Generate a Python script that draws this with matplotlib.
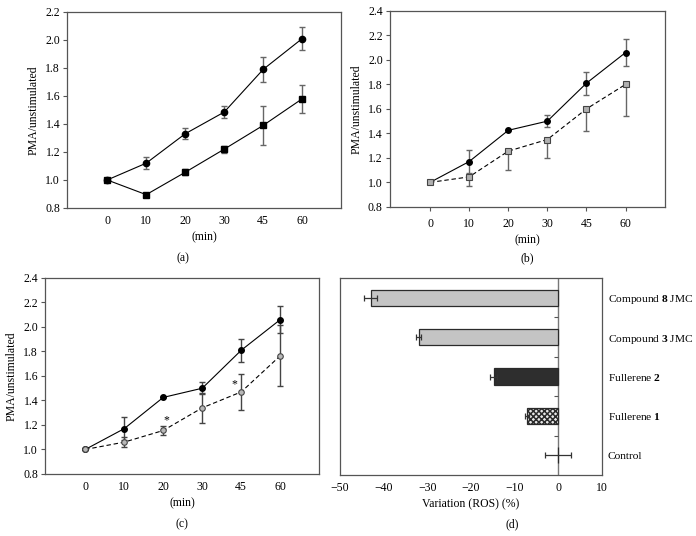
import numpy as np
import matplotlib
matplotlib.use("Agg")
import matplotlib.pyplot as plt

plt.rcParams["font.family"] = ["Liberation Serif", "DejaVu Serif"]
plt.rcParams["mathtext.fontset"] = "custom"
plt.rcParams["mathtext.rm"] = "Liberation Serif"
plt.rcParams["mathtext.bf"] = "Liberation Serif:bold"
plt.rcParams["font.size"] = 8.5
plt.rcParams["hatch.linewidth"] = 1.1

# ---- data ----
time_labels = ["0", "10", "20", "30", "45", "60"]

# panel (a)
a_circle = [1.00, 1.12, 1.33, 1.485, 1.79, 2.01]
a_circle_err = [0.0, 0.045, 0.04, 0.045, 0.09, 0.085]
a_square = [1.00, 0.895, 1.055, 1.22, 1.39, 1.58]
a_square_err = [0.0, 0.015, 0.02, 0.025, 0.14, 0.10]

# panel (b)
b_circle = [1.00, 1.17, 1.425, 1.50, 1.81, 2.06]
b_circle_err = [0.0, 0.095, 0.0, 0.05, 0.095, 0.11]
b_square = [1.00, 1.045, 1.255, 1.35, 1.60, 1.80]
b_square_err_low = [0.0, 0.075, 0.15, 0.15, 0.18, 0.26]

# panel (c)
c_circle = [1.00, 1.17, 1.425, 1.50, 1.81, 2.06]
c_circle_err = [0.0, 0.095, 0.0, 0.05, 0.095, 0.11]
c_open = [1.00, 1.06, 1.155, 1.34, 1.47, 1.765]
c_open_err = [0.0, 0.04, 0.035, 0.12, 0.15, 0.25]
c_star = [False, False, True, False, True, False]

# panel (d)
d_labels = [r"Compound $\mathbf{8}$ JMC", r"Compound $\mathbf{3}$ JMC",
            r"Fullerene $\mathbf{2}$", r"Fullerene $\mathbf{1}$", "Control"]
d_values = [-43.0, -32.0, -14.8, -7.2, 0.0]
d_err = [1.5, 0.5, 0.8, 0.5, 3.0]

spine_col = "#555555"
err_col = "#666666"

fig = plt.figure(figsize=(6.96, 5.36), dpi=100)

ax_a = fig.add_axes([0.0963, 0.612, 0.394, 0.3657])
ax_b = fig.add_axes([0.560, 0.614, 0.395, 0.3657])
ax_c = fig.add_axes([0.0647, 0.1157, 0.394, 0.3657])
ax_d = fig.add_axes([0.4885, 0.1138, 0.3764, 0.3675])

x = np.arange(len(time_labels))


def style_line_axes(ax, ymax, xticks_marks):
    ax.set_xlim(-1.03, 6.0)
    ax.set_ylim(0.8, ymax)
    ax.set_yticks(np.arange(0.8, ymax + 0.01, 0.2))
    ax.set_yticklabels([f"{v:.1f}" for v in np.arange(0.8, ymax + 0.01, 0.2)])
    ax.set_xticks(x)
    ax.set_xticklabels(time_labels)
    ax.tick_params(axis="y", direction="out", length=3, width=0.8,
                   color=spine_col, pad=2)
    ax.tick_params(axis="x", direction="out",
                   length=3 if xticks_marks else 0, width=0.8,
                   color=spine_col, pad=5)
    for s in ax.spines.values():
        s.set_color(spine_col)
        s.set_linewidth(0.9)
    ax.set_xlabel("(min)", labelpad=3)
    ax.set_ylabel("PMA/unstimulated", labelpad=4)


# ---- (a) ----
ax_a.errorbar(x, a_circle, yerr=a_circle_err, fmt="none", ecolor=err_col,
              elinewidth=1.0, capsize=2.5, capthick=1.0)
ax_a.errorbar(x, a_square, yerr=a_square_err, fmt="none", ecolor=err_col,
              elinewidth=1.0, capsize=2.5, capthick=1.0)
ax_a.plot(x, a_circle, color="black", lw=0.8, marker="o", ms=4.5)
ax_a.plot(x, a_square, color="black", lw=0.8, marker="s", ms=4.5)
style_line_axes(ax_a, 2.2, False)

# ---- (b) ----
ax_b.errorbar(x, b_circle, yerr=b_circle_err, fmt="none", ecolor=err_col,
              elinewidth=1.0, capsize=2.5, capthick=1.0)
ax_b.errorbar(x, b_square, yerr=[b_square_err_low, [0] * 6], fmt="none",
              ecolor=err_col, elinewidth=1.0, capsize=2.5, capthick=1.0)
ax_b.plot(x, b_circle, color="black", lw=0.8, marker="o", ms=4)
ax_b.plot(x, b_square, color="black", lw=0.8, ls=(0, (4, 2.5)), marker="s",
          ms=4, mfc="#b0b0b0", mec="#444444", mew=0.8)
style_line_axes(ax_b, 2.4, True)

# ---- (c) ----
ax_c.errorbar(x, c_circle, yerr=c_circle_err, fmt="none", ecolor="#444444",
              elinewidth=1.0, capsize=2.5, capthick=1.0)
ax_c.errorbar(x, c_open, yerr=c_open_err, fmt="none", ecolor="#444444",
              elinewidth=1.0, capsize=2.5, capthick=1.0)
ax_c.plot(x, c_circle, color="black", lw=0.8, marker="o", ms=4)
ax_c.plot(x, c_open, color="black", lw=0.8, ls=(0, (4, 2.5)), marker="o",
          ms=4, mfc="#b8b8b8", mec="#444444", mew=0.8)
for xi, yi, st, ei in zip(x, c_open, c_star, c_open_err):
    if st:
        if xi == 2:
            ax_c.annotate("*", (xi, yi + ei), xytext=(2, 0),
                          textcoords="offset points", ha="center",
                          va="bottom", fontsize=8.5)
        else:
            ax_c.annotate("*", (xi, yi), xytext=(-5, 1),
                          textcoords="offset points", ha="center",
                          va="bottom", fontsize=8.5)
style_line_axes(ax_c, 2.4, False)

# ---- (d) ----
yd = np.arange(len(d_labels))
colors = ["#c4c4c4", "#c4c4c4", "#2e2e2e", "#e8e8e8", "white"]
hatches = [None, None, None, "xxxxxx", None]
for yi, v, c, h in zip(yd, d_values, colors, hatches):
    ax_d.barh(yi, v, height=0.41, color=c, edgecolor="#2a2a2a",
              linewidth=0.9, hatch=h)
ax_d.errorbar(d_values, yd, xerr=d_err, fmt="none", ecolor="#333333",
              elinewidth=0.9, capsize=2, capthick=0.9)
ax_d.axvline(0, color="#777777", lw=1.0, zorder=0.5)
ax_d.plot(np.zeros(len(yd) - 1), yd[:-1] + 0.5, linestyle="none",
          marker=0, ms=3, color="#555555", mew=0.8)
ax_d.set_ylim(len(d_labels) - 0.5, -0.5)
ax_d.set_xlim(-50, 10)
ax_d.set_xticks(np.arange(-50, 11, 10))
ax_d.set_yticks(yd)
ax_d.set_yticklabels(d_labels)
ax_d.yaxis.tick_right()
ax_d.tick_params(axis="y", length=0, pad=4, labelsize=8.2)
ax_d.tick_params(axis="x", length=0, pad=5)
for s in ax_d.spines.values():
    s.set_color(spine_col)
    s.set_linewidth(0.9)
ax_d.set_xlabel("Variation (ROS) (%)", labelpad=3)

# ---- panel captions ----
fig.text(183 / 696, 1 - 258 / 536, "(a)", ha="center", va="center")
fig.text(527 / 696, 1 - 258 / 536, "(b)", ha="center", va="center")
fig.text(182 / 696, 1 - 524 / 536, "(c)", ha="center", va="center")
fig.text(512 / 696, 1 - 524 / 536, "(d)", ha="center", va="center")

fig.savefig("out.png", dpi=100)
